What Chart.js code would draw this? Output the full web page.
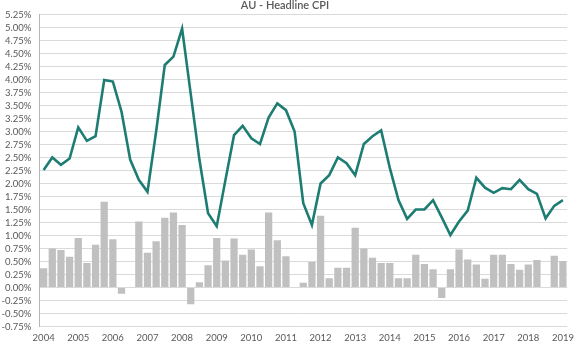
<!DOCTYPE html>
<html>
<head>
<meta charset="utf-8">
<script src="https://cdn.jsdelivr.net/npm/chart.js@4/dist/chart.umd.min.js"></script>
<style>
  html, body { margin: 0; padding: 0; background: #fff; }
  #wrap { width: 580px; height: 352px; position: relative; }
</style>
</head>
<body>
<div id="wrap"><canvas id="cpiChart"></canvas></div>
<script>
// year labels shown under every 4th quarter
const tickLabels = ['2004','2005','2006','2007','2008','2009','2010','2011','2012','2013','2014','2015','2016','2017','2018','2019'];

// quarterly change (grey bars), null = no bar
const quarterly = [
  0.37, 0.75, 0.72, 0.59, 0.95, 0.47, 0.82, 1.65, 0.93, -0.12, null,
  1.27, 0.67, 0.89, 1.34, 1.44, 1.20, -0.32, 0.10, 0.43, 0.95,
  0.52, 0.94, 0.63, 0.73, 0.41, 1.44, 0.91, 0.60, null, 0.09,
  0.49, 1.38, 0.18, 0.38, 0.38, 1.15, 0.75, 0.57, 0.47, 0.47,
  0.18, 0.18, 0.63, 0.45, 0.35, -0.20, 0.35, 0.73, 0.54, 0.44,
  0.17, 0.63, 0.63, 0.45, 0.34, 0.44, 0.53, null, 0.61, 0.51
];

// annual headline CPI (teal line)
const annual = [
  2.26, 2.50, 2.36, 2.48, 3.08, 2.82, 2.91, 3.99, 3.96, 3.38, 2.46,
  2.07, 1.84, 3.00, 4.28, 4.44, 4.98, 3.72, 2.46, 1.43, 1.18,
  2.06, 2.93, 3.11, 2.87, 2.76, 3.27, 3.54, 3.41, 3.00, 1.62,
  1.20, 2.00, 2.16, 2.50, 2.39, 2.16, 2.76, 2.91, 3.02, 2.30,
  1.68, 1.32, 1.50, 1.50, 1.68, 1.35, 1.01, 1.27, 1.48, 2.11,
  1.92, 1.82, 1.91, 1.89, 2.07, 1.89, 1.80, 1.33, 1.57, 1.68
];

(function() {
    const labels = annual.map((_, i) => i % 4 === 0 ? tickLabels[i / 4] : '');
    const txt = '#595959';
    const font = { family: 'Lato, "Open Sans", sans-serif', size: 9.5 };

    new Chart(document.getElementById('cpiChart'), {
        type: 'bar',
        data: {
            labels: labels,
            datasets: [
                { type: 'line', data: annual, borderColor: '#1d7d73', borderWidth: 2.6, pointRadius: 0, tension: 0, fill: false, order: 0 },
                { type: 'bar', data: quarterly, backgroundColor: '#c0c0c0', barPercentage: 1, categoryPercentage: 0.84, order: 1 }
            ]
        },
        options: {
            responsive: true,
            maintainAspectRatio: false,
            animation: false,
            layout: { padding: { left: 0, right: 10, top: 0, bottom: 0 } },
            plugins: {
                legend: { display: false },
                tooltip: { enabled: false },
                title: {
                    display: true,
                    text: 'AU - Headline CPI',
                    color: txt,
                    font: { family: 'Lato, "Open Sans", sans-serif', size: 11, weight: '600', lineHeight: 1 },
                    padding: { top: 0, bottom: 3.5 }
                }
            },
            scales: {
                x: {
                    grid: { display: false, drawTicks: false },
                    border: { display: false },
                    ticks: { color: txt, font: font, autoSkip: false, maxRotation: 0, padding: 6 },
                    afterFit: s => { s.height = 25.5; }
                },
                y: {
                    min: -0.75,
                    max: 5.25,
                    grid: { color: '#dadada', lineWidth: 1, drawTicks: false },
                    border: { display: true, color: '#b5b5b5', width: 1 },
                    ticks: {
                        stepSize: 0.25,
                        autoSkip: false,
                        color: txt,
                        font: font,
                        padding: 8,
                        callback: v => (Math.round(v * 100) / 100).toFixed(2) + '%'
                    },
                    afterFit: s => { s.width = 39.3; }
                }
            }
        }
    });
})();
</script>
</body>
</html>
